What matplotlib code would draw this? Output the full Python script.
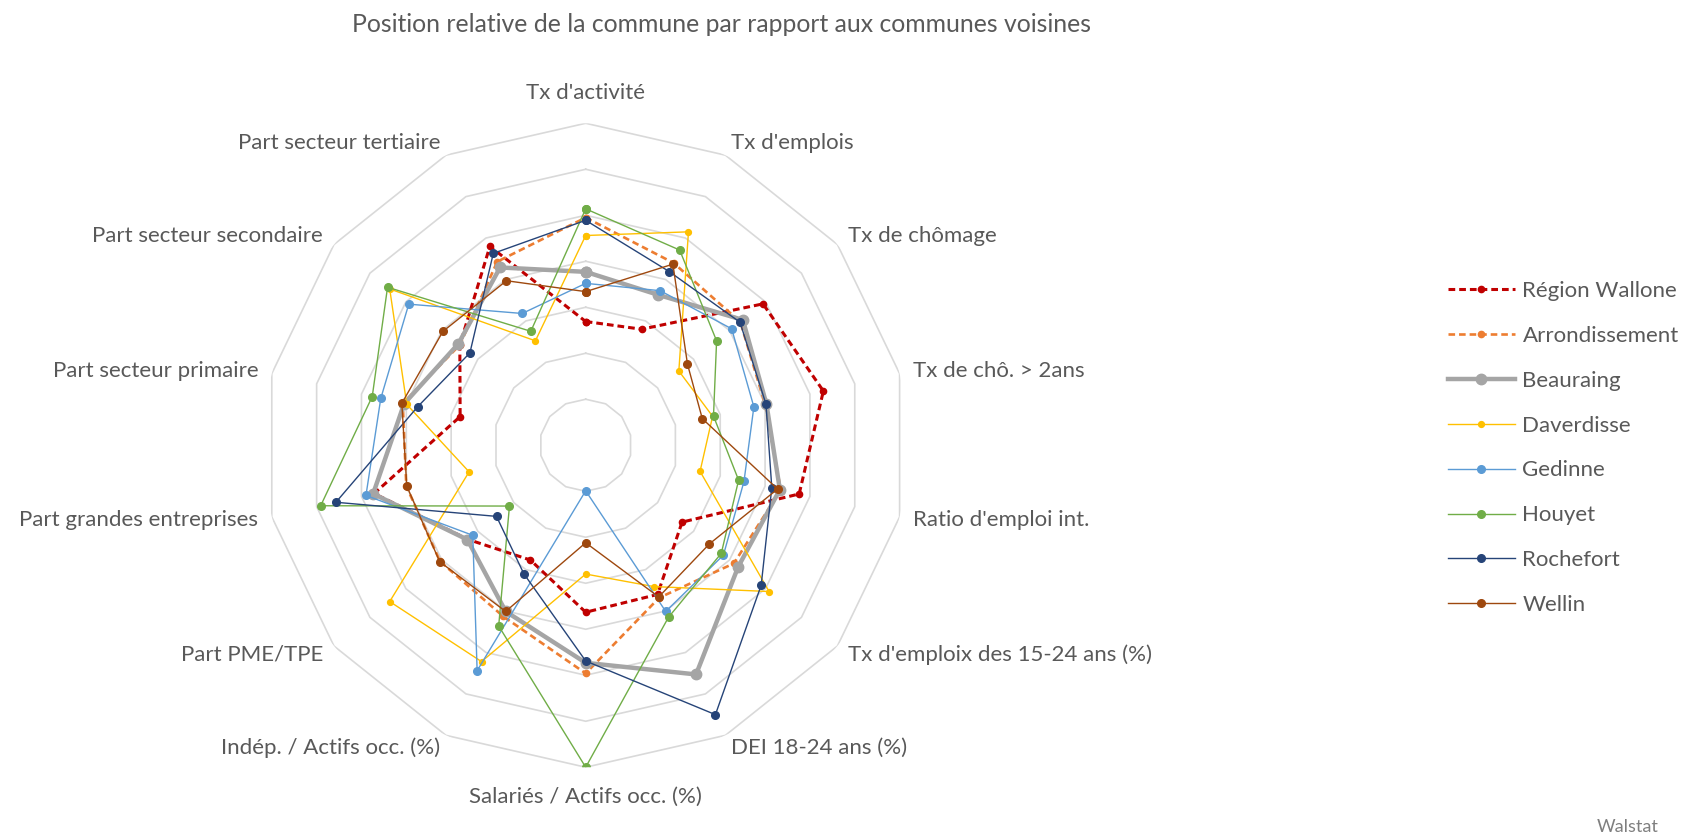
import numpy as np
import matplotlib
matplotlib.use("Agg")
import matplotlib.pyplot as plt

plt.rcParams['font.family'] = ['Lato', 'DejaVu Sans']

# Axes du radar (sens horaire depuis le haut)
categories = ["Tx d'activité", "Tx d'emplois", "Tx de chômage", "Tx de chô. > 2ans",
              "Ratio d'emploi int.", "Tx d'emploix des 15-24 ans (%)", "DEI 18-24 ans (%)",
              "Salariés / Actifs occ. (%)", "Indép. / Actifs occ. (%)", "Part PME/TPE",
              "Part grandes entreprises", "Part secteur primaire", "Part secteur secondaire",
              "Part secteur tertiaire"]

# Valeurs (échelle 0 à 7)
region_wallone = [2.69, 2.80, 4.93, 5.30, 4.76, 2.68, 3.60, 3.63, 2.77, 3.28, 4.72, 2.80, 3.50, 4.80]
arrondissement = [4.95, 4.40, 4.30, 4.00, 4.35, 4.12, 3.68, 4.96, 4.13, 4.05, 4.00, 4.08, 3.50, 4.43]
beauraing = [3.77, 3.63, 4.37, 4.03, 4.33, 4.24, 5.53, 4.73, 4.01, 3.29, 4.74, 4.05, 3.54, 4.29]
daverdisse = [4.56, 5.15, 2.59, 2.83, 2.55, 5.10, 3.41, 2.80, 5.22, 5.45, 2.60, 3.99, 5.45, 2.52]
gedinne = [3.52, 3.73, 4.06, 3.75, 3.53, 3.83, 4.01, 0.99, 5.44, 3.14, 4.90, 4.57, 4.92, 3.18]
houyet = [5.14, 4.71, 3.64, 2.85, 3.41, 3.77, 4.15, 7.00, 4.36, 2.12, 5.91, 4.76, 5.51, 2.75]
rochefort = [4.89, 4.19, 4.29, 4.02, 4.15, 4.88, 6.50, 4.69, 3.10, 2.48, 5.57, 3.75, 3.22, 4.63]
wellin = [3.34, 4.37, 2.83, 2.60, 4.28, 3.44, 3.66, 2.12, 4.01, 4.06, 3.99, 4.10, 3.97, 3.97]

series = [
    ("Région Wallone", region_wallone, dict(color="#C00000", lw=2.2, ls=(0, (2.2, 1.3)), ms=4.5)),
    ("Arrondissement", arrondissement, dict(color="#ED7D31", lw=1.9, ls=(0, (2.5, 1.5)), ms=4.5)),
    ("Beauraing", beauraing, dict(color="#A5A5A5", lw=3.2, ls="-", ms=7.5)),
    ("Daverdisse", daverdisse, dict(color="#FFC000", lw=1.0, ls="-", ms=4.2)),
    ("Gedinne", gedinne, dict(color="#5B9BD5", lw=1.0, ls="-", ms=5.5)),
    ("Houyet", houyet, dict(color="#70AD47", lw=1.0, ls="-", ms=5.5)),
    ("Rochefort", rochefort, dict(color="#264478", lw=1.0, ls="-", ms=5.5)),
    ("Wellin", wellin, dict(color="#9E480E", lw=1.0, ls="-", ms=5.5)),
]

n = len(categories)
angles = np.linspace(0, 2 * np.pi, n, endpoint=False)
angles_c = np.append(angles, angles[0])

fig = plt.figure(figsize=(16.84, 8.39), dpi=100)
ax = fig.add_axes([0.1566, 0.0855, 0.3824, 0.7676], projection='polar')
ax.set_theta_zero_location('N')
ax.set_theta_direction(-1)
ax.set_ylim(0, 7)
ax.set_xticks([])
ax.set_yticks([])
ax.grid(False)
ax.spines['polar'].set_visible(False)
ax.set_facecolor('none')

# anneaux polygonaux
for k in range(1, 8):
    ax.plot(angles_c, [k] * (n + 1), color="#D9D9D9", lw=1.2, zorder=1)

handles = []
for i, (nom, vals, st) in enumerate(series):
    v = np.append(vals, vals[0])
    h, = ax.plot(angles_c, v, color=st["color"], lw=st["lw"], ls=st["ls"],
                 marker='o', ms=st["ms"], label=nom, zorder=3 + i)
    handles.append(h)

# étiquettes des axes
gris = "#595959"
fs = 16
for a, lab in zip(angles, categories):
    deg = np.degrees(a)
    if np.isclose(deg, 0) or np.isclose(deg, 180):
        ax.text(a, 7.65, lab, ha='center', va='center', fontsize=fs, color=gris)
    elif deg < 180:
        ax.text(a, 7.3, lab, ha='left', va='center', fontsize=fs, color=gris)
    else:
        ax.text(a, 7.3, lab, ha='right', va='center', fontsize=fs, color=gris)

fig.text(0.4286, 0.971, "Position relative de la commune par rapport aux communes voisines",
         ha='center', va='center', fontsize=17.8, color=gris)

fig.legend(handles=handles, loc='center left', bbox_to_anchor=(0.848, 0.466),
           frameon=False, fontsize=fs, labelcolor=gris, handlelength=3.0,
           labelspacing=1.12, handletextpad=0.35)

fig.text(0.985, 0.014, "Walstat", ha='right', va='center', fontsize=13, color="#7f7f7f")

fig.savefig("out.png", dpi=100)
